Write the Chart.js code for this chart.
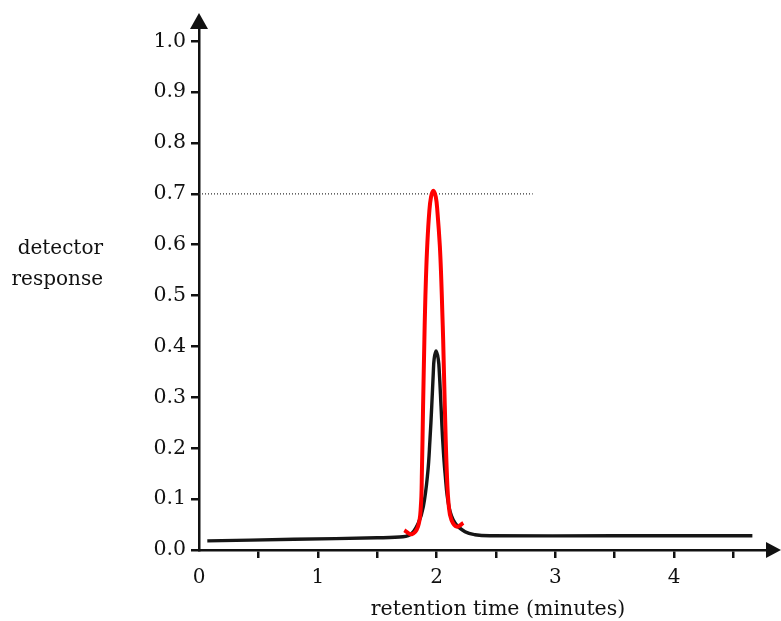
<!DOCTYPE html>
<html>
<head>
<meta charset="utf-8">
<style>
  html, body { margin: 0; padding: 0; background: #fff; }
</style>
<script src="https://cdn.jsdelivr.net/npm/chart.js@4.4.1/dist/chart.umd.min.js"></script>
</head>
<body>
<canvas id="chart" width="781" height="621"></canvas>
<script>
'use strict';

// black trace: detector response vs retention time (minutes)
const sampleTimes = [0.07, 0.8, 1.5, 1.65, 1.777, 1.847, 1.889, 1.926, 1.945, 1.96, 1.973, 1.98, 1.996, 2.015, 2.024, 2.038, 2.052, 2.072, 2.105, 2.156, 2.24, 2.324, 2.45, 3.5, 4.66];
const sampleResponse = [0.018, 0.021, 0.024, 0.025, 0.03, 0.053, 0.085, 0.151, 0.217, 0.283, 0.348, 0.375, 0.391, 0.375, 0.348, 0.283, 0.217, 0.151, 0.085, 0.053, 0.036, 0.03, 0.028, 0.028, 0.028];

// red hand-drawn peak
const redTimes = [1.729, 1.791, 1.844, 1.868, 1.877, 1.887, 1.898, 1.903, 1.911, 1.922, 1.939, 1.954, 1.973, 1.994, 2.008, 2.028, 2.040, 2.049, 2.056, 2.070, 2.087, 2.104, 2.126, 2.170, 2.226];
const redResponse = [0.039, 0.031, 0.046, 0.085, 0.152, 0.283, 0.414, 0.467, 0.533, 0.598, 0.664, 0.694, 0.706, 0.694, 0.664, 0.598, 0.533, 0.467, 0.414, 0.283, 0.152, 0.085, 0.059, 0.046, 0.053];

// dotted reference level
const refTimes = [0, 2.81];
const refResponse = [0.70, 0.70];

const xTicks = [0, 0.5, 1, 1.5, 2, 2.5, 3, 3.5, 4, 4.5];
const xTickLabels = ['0', '', '1', '', '2', '', '3', '', '4', ''];
const yTicks = [0, 0.1, 0.2, 0.3, 0.4, 0.5, 0.6, 0.7, 0.8, 0.9, 1.0];
const yTickLabels = ['0.0', '0.1', '0.2', '0.3', '0.4', '0.5', '0.6', '0.7', '0.8', '0.9', '1.0'];

const toPoints = (xs, ys) => xs.map((x, i) => ({ x: x, y: ys[i] }));

const serif = '"DejaVu Serif", "Liberation Serif", serif';
const ink = '#111';

// arrows on the axes plus the horizontal y label and x title
const axisExtras = {
  id: 'axisExtras',
  afterDraw(chart) {
    const { ctx, chartArea } = chart;
    ctx.save();
    ctx.fillStyle = ink;
    ctx.beginPath();
    ctx.moveTo(chartArea.left, chartArea.top - 15);
    ctx.lineTo(chartArea.left - 9, chartArea.top + 1);
    ctx.lineTo(chartArea.left + 9, chartArea.top + 1);
    ctx.closePath();
    ctx.fill();

    ctx.beginPath();
    ctx.moveTo(chartArea.right + 12, chartArea.bottom);
    ctx.lineTo(chartArea.right - 3, chartArea.bottom - 8);
    ctx.lineTo(chartArea.right - 3, chartArea.bottom + 8);
    ctx.closePath();
    ctx.fill();

    ctx.font = '20px ' + serif;
    ctx.fillStyle = ink;
    ctx.textAlign = 'right';
    ctx.textBaseline = 'alphabetic';
    ctx.fillText('detector', 103, 254);
    ctx.fillText('response', 103, 285);

    ctx.font = '20.5px ' + serif;
    ctx.textAlign = 'center';
    ctx.fillText('retention time (minutes)', 498, 615);
    ctx.restore();
  }
};

const data = {
  datasets: [
    {
      label: 'standard',
      data: toPoints(redTimes, redResponse),
      borderColor: '#ff0000',
      borderWidth: 4,
      pointRadius: 0,
      tension: 0.4,
      order: 0,
    },
    {
      label: 'sample',
      data: toPoints(sampleTimes, sampleResponse),
      borderColor: '#161616',
      borderWidth: 3.4,
      pointRadius: 0,
      tension: 0.4,
      order: 1,
    },
    {
      label: 'level',
      data: toPoints(refTimes, refResponse),
      borderColor: '#333',
      borderWidth: 1.2,
      borderDash: [1, 2],
      pointRadius: 0,
      order: 2,
    }
  ]
};

const config = {
  type: 'line',
  data: data,
  options: {
    responsive: false,
    animation: false,
    layout: { padding: { top: 28, right: 12, left: 0, bottom: 0 } },
    plugins: {
      legend: { display: false },
      tooltip: { enabled: false },
    },
    scales: {
      x: {
        type: 'linear',
        min: 0,
        max: 4.8,
        afterBuildTicks: scale => { scale.ticks = xTicks.map(v => ({ value: v })); },
        afterFit: scale => { scale.height = 71; },
        border: { display: true, color: ink, width: 2.5 },
        grid: {
          drawOnChartArea: false,
          drawTicks: true,
          tickLength: 8,
          lineWidth: 2.5,
          color: ctx => (ctx.tick && ctx.tick.value === 0 ? 'rgba(0,0,0,0)' : ink),
        },
        ticks: {
          autoSkip: false,
          maxRotation: 0,
          padding: 8,
          color: ink,
          font: { family: serif, size: 20 },
          callback: (value, index) => xTickLabels[index],
        },
      },
      y: {
        type: 'linear',
        min: 0,
        max: 1.026,
        afterBuildTicks: scale => { scale.ticks = yTicks.map(v => ({ value: v })); },
        afterFit: scale => { scale.width = 199; },
        border: { display: true, color: ink, width: 2.5 },
        grid: {
          drawOnChartArea: false,
          drawTicks: true,
          tickLength: 8,
          lineWidth: 2.5,
          color: ink,
        },
        ticks: {
          autoSkip: false,
          padding: 5,
          color: ink,
          font: { family: serif, size: 20.5 },
          callback: (value, index) => yTickLabels[index],
        },
      },
    },
  },
  plugins: [axisExtras],
};

function renderChart() {
  new Chart(document.getElementById('chart'), config);
}

renderChart();
</script>
</body>
</html>
